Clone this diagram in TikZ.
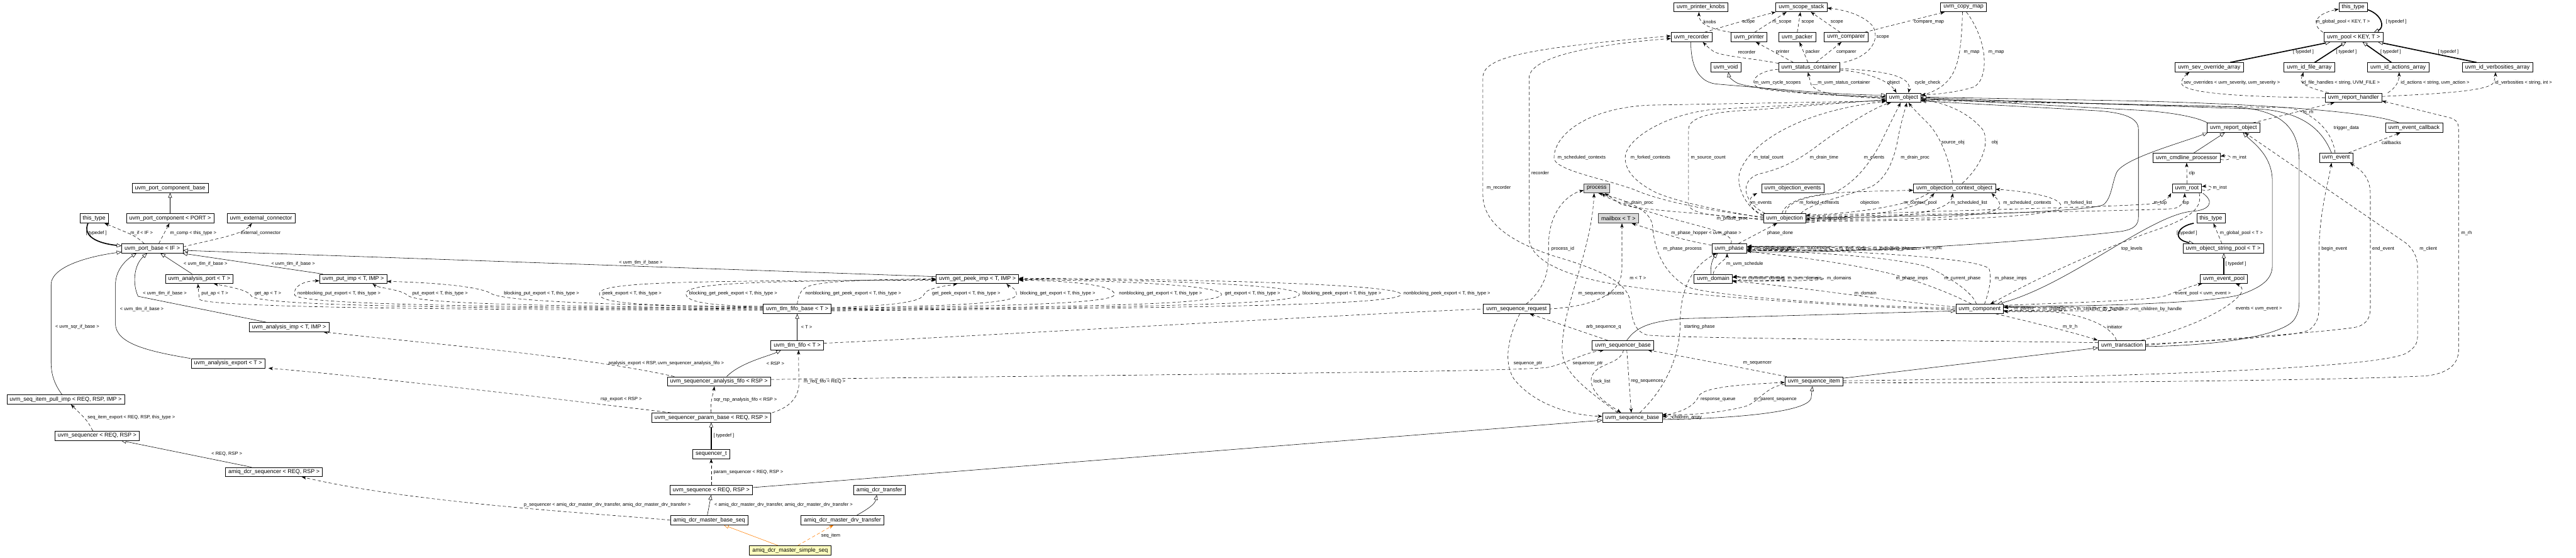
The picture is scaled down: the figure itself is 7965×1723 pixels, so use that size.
\documentclass[tikz,border=0pt]{standalone}
\usepackage{fontspec}
\setmainfont{Liberation Sans}
\usetikzlibrary{arrows.meta,backgrounds}
\definecolor{dxorange}{HTML}{FF7F00}
\definecolor{dxyellow}{HTML}{FFFFC0}
\definecolor{dxgrey}{HTML}{D9D9D9}
\newcommand{\clsfont}{\fontsize{17.5}{19}\selectfont}
\newcommand{\edgefont}{\fontsize{14.5}{16}\selectfont}
\tikzset{
  cls/.style={draw=black,line width=1.2pt,fill=white,font=\clsfont,inner xsep=9pt,inner ysep=0pt,minimum height=29pt},
  ext/.style={cls,fill=dxgrey,draw=black!75},
  focus/.style={cls,fill=dxyellow},
  elbl/.style={font=\edgefont,inner sep=0pt,anchor=west},
  inh/.style={line width=1.1pt,-{Triangle[open,length=15pt,width=12pt,fill=white]}},
  tdef/.style={line width=3.2pt,-{Triangle[open,length=15pt,width=12pt,fill=white,line width=1.1pt]}},
  use/.style={line width=1.1pt,dash pattern=on 10pt off 7pt,-{Stealth[length=14pt,width=10pt,inset=4pt]}},
}
\begin{document}
\begin{tikzpicture}[x=1pt,y=-1pt]
\useasboundingbox (0,0) rectangle (7965,1723);
% classes
\node[cls] (pcb) at (526,581) {uvm\_port\_component\_base};
\node[cls] (thistypeL) at (291,675) {this\_type};
\node[cls] (pcomp) at (526,675) {uvm\_port\_component < PORT >};
\node[cls] (extconn) at (807,675) {uvm\_external\_connector};
\node[cls] (portbase) at (471,768) {uvm\_port\_base < IF >};
\node[cls] (aport) at (616,862) {uvm\_analysis\_port < T >};
\node[cls] (putimp) at (1092,862) {uvm\_put\_imp < T, IMP >};
\node[cls] (aimp) at (894,1011) {uvm\_analysis\_imp < T, IMP >};
\node[cls] (aexport) at (705,1123) {uvm\_analysis\_export < T >};
\node[cls] (pullimp) at (203,1235) {uvm\_seq\_item\_pull\_imp < REQ, RSP, IMP >};
\node[cls] (sqr) at (300,1347) {uvm\_sequencer < REQ, RSP >};
\node[cls] (dcrsqr) at (847,1459) {amiq\_dcr\_sequencer < REQ, RSP >};
\node[cls] (fifobase) at (2465,955) {uvm\_tlm\_fifo\_base < T >};
\node[cls] (fifo) at (2465,1067) {uvm\_tlm\_fifo < T >};
\node[cls] (safifo) at (2223,1179) {uvm\_sequencer\_analysis\_fifo < RSP >};
\node[cls] (parambase) at (2199,1291) {uvm\_sequencer\_param\_base < REQ, RSP >};
\node[cls] (sqrt) at (2199,1403) {sequencer\_t};
\node[cls] (seq) at (2199,1515) {uvm\_sequence < REQ, RSP >};
\node[cls] (dcrtr) at (2719,1515) {amiq\_dcr\_transfer};
\node[cls] (baseseq) at (2193,1608) {amiq\_dcr\_master\_base\_seq};
\node[cls] (drvtr) at (2605,1608) {amiq\_dcr\_master\_drv\_transfer};
\node[focus] (simpleseq) at (2443,1701) {amiq\_dcr\_master\_simple\_seq};
\node[cls] (getpeek) at (3022,862) {uvm\_get\_peek\_imp < T, IMP >};
\node[cls] (seqreq) at (4689,955) {uvm\_sequence\_request};
\node[cls] (sqrbase) at (5018,1067) {uvm\_sequencer\_base};
\node[cls] (seqbase) at (5047,1291) {uvm\_sequence\_base};
\node[cls] (knobs) at (5259,22) {uvm\_printer\_knobs};
\node[cls] (recorder) at (5230,115) {uvm\_recorder};
\node[cls] (void) at (5336,208) {uvm\_void};
\node[ext] (process) at (4937,582) {process};
\node[ext] (mailbox) at (5004,675) {mailbox < T >};
\node[cls] (phase) at (5347,768) {uvm\_phase};
\node[cls] (domain) at (5297,862) {uvm\_domain};
\node[cls] (scope) at (5570,22) {uvm\_scope\_stack};
\node[cls] (copymap) at (6071,22) {uvm\_copy\_map};
\node[cls] (printer) at (5408,115) {uvm\_printer};
\node[cls] (packer) at (5557,115) {uvm\_packer};
\node[cls] (comparer) at (5708,115) {uvm\_comparer};
\node[cls] (status) at (5594,208) {uvm\_status\_container};
\node[cls] (object) at (5886,302) {uvm\_object};
\node[cls] (objevents) at (5543,582) {uvm\_objection\_events};
\node[cls] (ctxobj) at (6043,582) {uvm\_objection\_context\_object};
\node[cls] (objection) at (5518,675) {uvm\_objection};
\node[cls] (component) at (6121,955) {uvm\_component};
\node[cls] (transaction) at (6561,1067) {uvm\_transaction};
\node[cls] (seqitem) at (5609,1179) {uvm\_sequence\_item};
\node[cls] (thistypeT) at (7276,22) {this\_type};
\node[cls] (pool) at (7277,115) {uvm\_pool < KEY, T >};
\node[cls] (sevarr) at (6831,208) {uvm\_sev\_override\_array};
\node[cls] (filearr) at (7140,208) {uvm\_id\_file\_array};
\node[cls] (actarr) at (7415,208) {uvm\_id\_actions\_array};
\node[cls] (verbarr) at (7722,208) {uvm\_id\_verbosities\_array};
\node[cls] (rh) at (7277,302) {uvm\_report\_handler};
\node[cls] (ro) at (6906,395) {uvm\_report\_object};
\node[cls] (evcb) at (7464,395) {uvm\_event\_callback};
\node[cls] (clp) at (6761,488) {uvm\_cmdline\_processor};
\node[cls] (event) at (7223,488) {uvm\_event};
\node[cls] (root) at (6762,582) {uvm\_root};
\node[cls] (thistypeM) at (6836,675) {this\_type};
\node[cls] (strpool) at (6874,768) {uvm\_object\_string\_pool < T >};
\node[cls] (evpool) at (6876,862) {uvm\_event\_pool};

% edge labels
\foreach \lx/\ly/\lt in {266/721/{[ typedef ]}, 403/721/{m\_if < IF >}, 526/721/{m\_comp < this\_type >},
  744/721/{external\_connector}, 568/815/{< uvm\_tlm\_if\_base >}, 839/815/{< uvm\_tlm\_if\_base >},
  442/908/{< uvm\_tlm\_if\_base >}, 371/955/{< uvm\_tlm\_if\_base >}, 171/1011/{< uvm\_sqr\_if\_base >},
  271/1291/{seq\_item\_export < REQ, RSP, this\_type >}, 654/1403/{< REQ, RSP >},
  623/908/{put\_ap < T >}, 787/908/{get\_ap < T >}, 920/908/{nonblocking\_put\_export < T, this\_type >},
  1275/908/{put\_export < T, this\_type >}, 1558/908/{blocking\_put\_export < T, this\_type >},
  1863/908/{peek\_export < T, this\_type >}, 2131/908/{blocking\_get\_peek\_export < T, this\_type >},
  2490/908/{nonblocking\_get\_peek\_export < T, this\_type >}, 2882/908/{get\_peek\_export < T, this\_type >},
  3154/908/{blocking\_get\_export < T, this\_type >}, 3460/908/{nonblocking\_get\_export < T, this\_type >},
  3787/908/{get\_export < T, this\_type >}, 4027/908/{blocking\_peek\_export < T, this\_type >},
  4340/908/{nonblocking\_peek\_export < T, this\_type >}, 1914/812/{< uvm\_tlm\_if\_base >},
  2477/1011/{< T >}, 1881/1124/{analysis\_export < RSP, uvm\_sequencer\_analysis\_fifo >}, 2370/1124/{< RSP >},
  2485/1179/{m\_req\_fifo < REQ >}, 1857/1235/{rsp\_export < RSP >}, 2207/1235/{sqr\_rsp\_analysis\_fifo < RSP >},
  2206/1347/{[ typedef ]}, 2206/1459/{param\_sequencer < REQ, RSP >},
  1620/1561/{p\_sequencer < amiq\_dcr\_master\_drv\_transfer, amiq\_dcr\_master\_drv\_transfer >},
  2209/1561/{< amiq\_dcr\_master\_drv\_transfer, amiq\_dcr\_master\_drv\_transfer >}, 2539/1655/{seq\_item}}
  \node[elbl] (lab\lx-\ly) at (\lx,\ly) {\lt};
\foreach \lx/\ly/\lt in {4880/908/{m\_sequence\_process}, 5039/860/{m < T >}, 4904/1011/{arb\_sequence\_q},
  5207/1011/{starting\_phase}, 4680/1123/{sequence\_ptr}, 4863/1123/{sequencer\_ptr}, 4927/1179/{lock\_list},
  5043/1179/{reg\_sequences}, 5258/1235/{response\_queue}, 5170/1291/{children\_array}, 5267/68/{knobs},
  4816/488/{m\_scheduled\_contexts}, 5042/488/{m\_forked\_contexts}, 5228/488/{m\_source\_count},
  4735/535/{recorder}, 4597/581/{m\_recorder}, 5023/628/{m\_drain\_proc}, 5308/675/{m\_phase\_proc},
  5167/721/{m\_phase\_hopper < uvm\_phase >}, 4797/769/{process\_id}, 5143/769/{m\_phase\_process},
  5338/815/{m\_uvm\_schedule}, 5387/68/{scope}, 5480/68/{m\_scope}, 5570/68/{scope}, 5660/68/{scope},
  5918/68/{compare\_map}, 5802/115/{scope}, 5374/161/{recorder}, 5491/161/{printer}, 5583/161/{packer},
  5678/161/{comparer}, 6072/161/{m\_map}, 6148/161/{m\_map}, 5425/255/{m\_uvm\_cycle\_scopes},
  5604/255/{\_\_m\_uvm\_status\_container}, 5835/255/{object}, 5920/255/{cycle\_check},
  6003/441/{source\_obj}, 6158/441/{obj}, 5423/488/{m\_total\_count}, 5596/488/{m\_drain\_time},
  5763/488/{m\_events}, 5877/488/{m\_drain\_proc}, 5415/628/{m\_events}, 5564/628/{m\_forked\_contexts},
  5752/628/{objection}, 5886/628/{m\_context\_pool}, 6032/628/{m\_scheduled\_list},
  6194/628/{m\_scheduled\_contexts}, 6382/628/{m\_forked\_list}, 5622/675/{m\_objections},
  5464/721/{phase\_done}, 5431/769/{m\_predecessors}, 5505/769/{m\_imp}, 5567/769/{m\_successors},
  5686/769/{m\_end\_node}, 5791/769/{m\_executing\_phases}, 5955/769/{m\_sync}, 6559/769/{top\_levels},
  5386/861/{m\_common\_domain}, 5528/861/{m\_uvm\_domain}, 5649/861/{m\_domains}, 5862/861/{m\_phase\_imps},
  6011/861/{m\_current\_phase}, 6168/861/{m\_phase\_imps}, 5734/908/{m\_domain}}
  \node[elbl] (lab\lx-\ly) at (\lx,\ly) {\lt};
\foreach \lx/\ly/\lt in {6227/955/{m\_parent}, 6316/955/{m\_children}, 6422/955/{m\_children\_by\_handle},
  6600/955/{m\_children\_by\_handle}, 6378/1011/{m\_tr\_h}, 6515/1011/{initiator}, 5390/1123/{m\_sequencer},
  5423/1235/{m\_parent\_sequence}, 7160/68/{m\_global\_pool < KEY, T >}, 7377/68/{[ typedef ]},
  7090/161/{[ typedef ]}, 7223/161/{[ typedef ]}, 7360/161/{[ typedef ]}, 7538/161/{[ typedef ]},
  6752/255/{sev\_overrides < uvm\_severity, uvm\_severity >}, 7118/255/{id\_file\_handles < string, UVM\_FILE >},
  7423/255/{id\_actions < string, uvm\_action >}, 7714/255/{id\_verbosities < string, int >},
  7120/348/{m\_rh}, 7216/395/{trigger\_data}, 7364/441/{callbacks}, 6903/488/{m\_inst}, 6768/535/{clp},
  6842/581/{m\_inst}, 6659/628/{m\_top}, 6748/628/{top}, 6730/721/{[ typedef ]},
  6864/721/{m\_global\_pool < T >}, 7610/721/{m\_rh}, 7178/769/{begin\_event}, 7335/769/{end\_event},
  7481/769/{m\_client}, 6881/815/{[ typedef ]}, 6726/908/{event\_pool < uvm\_event >},
  6913/955/{events < uvm\_event >}}
  \node[elbl] (lab\lx-\ly) at (\lx,\ly) {\lt};

\begin{scope}[on background layer]
\fill[white] (0,0) rectangle (7965,1723);
% port classes
\draw[inh] (pcomp.north) -- (pcb.south);
\draw[tdef] ([xshift=-19pt]thistypeL.south) .. controls (255,730) and (300,752) .. ([yshift=8pt]portbase.west);
\draw[use] ([xshift=-25pt]portbase.north) .. controls (420,730) .. ([xshift=32pt]thistypeL.south);
\draw[use] ([xshift=20pt]portbase.north) .. controls (505,725) .. ([xshift=-2pt]pcomp.south);
\draw[use] ([yshift=5pt]portbase.east) .. controls (680,735) and (750,725) .. ([xshift=-28pt]extconn.south);
\draw[inh] ([xshift=-22pt]aport.north) -- ([xshift=25pt]portbase.south);
\draw[inh] ([xshift=-94pt]putimp.north) -- ([xshift=93pt]portbase.south);
\draw[inh] ([xshift=-71pt]aimp.north) -- (427,916) .. controls (410,880) and (412,820) .. ([xshift=-16pt]portbase.south);
\draw[inh] ([xshift=-116pt]aexport.north) .. controls (450,1085) and (357,1060) .. (357,1000) -- (357,880) .. controls (357,830) and (395,800) .. ([xshift=-49pt]portbase.south);
\draw[inh] ([xshift=-11pt]pullimp.north) .. controls (170,1190) and (158,1160) .. (158,1120) -- (158,880) .. controls (158,820) and (290,790) .. ([yshift=-11pt]portbase.west);
\draw[inh] ([yshift=7pt]getpeek.west) -- ([yshift=-6pt]portbase.east);
% fifo exports
\draw[use] ([yshift=-4pt]fifobase.west) .. controls (1500,958) and (640,952) .. (616,925) -- ([xshift=-4pt]aport.south);
\draw[use] ([yshift=-2pt]fifobase.west) .. controls (1500,952) and (800,948) .. (777,915) .. controls (768,895) and (700,885) .. ([xshift=45pt]aport.south);
\draw[use] (fifobase.west) .. controls (1500,948) and (930,942) .. (911,912) .. controls (905,885) and (940,868) .. ([yshift=-6pt]putimp.west);
\draw[use] ([yshift=2pt]fifobase.west) .. controls (1600,945) and (1280,938) .. (1259,912) .. controls (1240,895) and (1170,890) .. ([xshift=60pt]putimp.south);
\draw[use] ([yshift=4pt]fifobase.west) .. controls (1900,942) and (1560,932) .. (1520,908) .. controls (1480,882) and (1300,872) .. ([yshift=-8pt]putimp.east);
\draw[use] ([yshift=6pt]fifobase.west) .. controls (2000,945) and (1853,940) .. (1853,908) .. controls (1853,872) and (2100,868) .. ([yshift=-4pt]getpeek.west);
\draw[use] ([yshift=8pt]fifobase.west) .. controls (2200,945) and (2121,935) .. (2121,908) .. controls (2121,876) and (2300,870) .. ([yshift=-2pt]getpeek.west);
\draw[use] (fifobase.north) .. controls (2468,915) and (2475,898) .. (2492,888) .. controls (2530,868) and (2700,864) .. (getpeek.west);
\draw[use] ([yshift=4pt]fifobase.east) .. controls (2750,945) and (2850,935) .. (2857,910) .. controls (2865,890) and (2920,885) .. ([xshift=-62pt]getpeek.south);
\draw[use] ([yshift=2pt]fifobase.east) .. controls (3000,945) and (3143,935) .. (3143,910) .. controls (3143,890) and (3120,885) .. ([xshift=90pt]getpeek.south);
\draw[use] (fifobase.east) .. controls (3200,945) and (3446,935) .. (3446,910) .. controls (3446,880) and (3300,868) .. ([yshift=-4pt]getpeek.east);
\draw[use] ([yshift=-2pt]fifobase.east) .. controls (3400,948) and (3777,940) .. (3777,910) .. controls (3777,880) and (3400,866) .. ([yshift=-2pt]getpeek.east);
\draw[use] ([yshift=-4pt]fifobase.east) .. controls (3500,950) and (4018,942) .. (4018,910) .. controls (4018,878) and (3500,864) .. (getpeek.east);
\draw[use] ([yshift=-6pt]fifobase.east) .. controls (3600,952) and (4332,945) .. (4332,910) .. controls (4332,876) and (3600,862) .. ([yshift=2pt]getpeek.east);
% sequencer side
\draw[inh] (fifo.north) -- (fifobase.south);
\draw[inh] ([xshift=24pt]safifo.north) .. controls (2290,1120) and (2380,1100) .. ([xshift=-50pt]fifo.south);
\draw[use] ([xshift=-138pt]safifo.north) .. controls (1800,1100) and (1300,1060) .. ([xshift=106pt]aimp.south);
\draw[use] (parambase.north) .. controls (2195,1240) and (2205,1220) .. ([xshift=-14pt]safifo.south);
\draw[use] ([xshift=188pt]parambase.north) .. controls (2440,1260) and (2468,1230) .. (2470,1190) -- ([xshift=4pt]fifo.south);
\draw[use] ([xshift=-124pt]parambase.north) .. controls (1700,1230) and (1100,1160) .. ([xshift=125pt]aexport.south);
\draw[tdef] (sqrt.north) -- (parambase.south);
\draw[use] (seq.north) -- (sqrt.south);
\draw[inh] ([xshift=-6pt]baseseq.north) -- (seq.south);
\draw[use] (baseseq.west) .. controls (1900,1590) and (1300,1560) .. ([xshift=86pt]dcrsqr.south);
\draw[inh] ([xshift=44pt]drvtr.north) .. controls (2680,1575) and (2705,1560) .. ([xshift=-8pt]dcrtr.south);
\draw[inh,dxorange] ([xshift=-38pt]simpleseq.north) -- ([xshift=45pt]baseseq.south);
\draw[use,dxorange] ([xshift=24pt]simpleseq.north) -- ([xshift=-28pt]drvtr.south);
\draw[inh] ([xshift=-70pt]dcrsqr.north) -- ([xshift=75pt]sqr.south);
\draw[use] ([xshift=-13pt]sqr.north) .. controls (270,1300) .. ([xshift=16pt]pullimp.south);
\draw[inh] ([yshift=8pt]seq.east) -- ([yshift=-8pt]seqbase.west);
\draw[use] ([yshift=6pt]safifo.east) .. controls (3500,1158) and (4700,1150) .. (4790,1135) .. controls (4850,1120) and (4900,1090) .. ([xshift=-58pt]sqrbase.south);
\draw[use] ([yshift=6pt]fifo.east) .. controls (3000,1040) and (4200,970) .. (seqreq.west) -- (seqreq.east) .. controls (4950,945) and (5015,900) .. (5015,830) -- ([xshift=11pt]mailbox.south);
% sequence / sequencer base
\draw[use] ([xshift=30pt]seqreq.north) .. controls (4790,880) and (4788,820) .. (4788,760) .. controls (4788,650) and (4850,600) .. ([yshift=-6pt]process.west);
\draw[use] ([xshift=10pt]seqreq.south) .. controls (4660,1050) and (4650,1120) .. (4680,1170) .. controls (4750,1260) and (4880,1285) .. ([yshift=4pt]seqbase.west);
\draw[use] ([xshift=-47pt]sqrbase.north) -- ([xshift=41pt]seqreq.south);
\draw[use] ([xshift=2pt]sqrbase.south) .. controls (5010,1130) and (4930,1120) .. (4920,1170) .. controls (4915,1220) and (4990,1260) .. ([xshift=-35pt]seqbase.north);
\draw[use] ([xshift=12pt]sqrbase.south) -- ([xshift=-3pt]seqbase.north);
\draw[use] ([xshift=-45pt]seqbase.north) .. controls (4900,1200) and (4830,1150) .. (4830,1080) .. controls (4830,950) and (4920,780) .. ([xshift=-8pt]process.south);
\draw[use] ([xshift=23pt]seqbase.north) .. controls (5150,1200) and (5195,1100) .. (5195,1000) .. controls (5195,880) and (5240,820) .. ([xshift=-40pt]phase.south);
\draw[use] ([yshift=-1pt]seqbase.east) .. controls (5182,1302) and (5182,1284) .. ([yshift=3pt]seqbase.east);
\draw[use] ([xshift=-85pt]seqitem.north) .. controls (5450,1150) and (5250,1110) .. ([xshift=77pt]sqrbase.south);
\draw[use] ([yshift=6pt]seqbase.east) .. controls (5200,1275) and (5240,1255) .. (5252,1225) .. controls (5265,1195) and (5400,1188) .. ([yshift=-3pt]seqitem.west);
\draw[use] ([yshift=-9pt]seqitem.west) .. controls (5460,1195) and (5440,1240) .. (5400,1255) .. controls (5330,1275) and (5220,1285) .. ([yshift=10pt]seqbase.east);
\draw[inh] ([yshift=-6pt]seqbase.east) .. controls (5300,1295) and (5590,1280) .. (5600,1230) -- ([xshift=-5pt]seqitem.south);
\draw[inh] ([yshift=10pt]seqitem.east) -- ([yshift=-8pt]transaction.west);
\draw[inh] ([xshift=12pt]sqrbase.north) .. controls (5060,1010) and (5100,995) .. (5200,985) -- ([yshift=-6pt]component.west);
% report side of sequence items
\draw[use] ([yshift=2pt]seqitem.east) .. controls (6500,1168) and (7350,1140) .. (7440,1092) .. controls (7468,1075) and (7475,1060) .. (7475,1040) -- (7475,830) .. controls (7475,790) and (7460,770) .. (7440,752) -- ([xshift=35pt]ro.south);
\draw[use] ([yshift=-4pt]seqitem.east) .. controls (6600,1185) and (7300,1172) .. (7500,1162) .. controls (7565,1155) and (7602,1130) .. (7602,1080) -- (7602,400) .. controls (7602,375) and (7590,368) .. (7575,364) -- ([yshift=-10pt]rh.east);
% transaction
\draw[use] ([yshift=3pt]transaction.east) .. controls (6900,1050) and (7100,1040) .. (7140,1020) .. controls (7165,1000) and (7170,980) .. (7170,950) -- (7170,780) .. controls (7172,650) and (7200,560) .. ([xshift=-14pt]event.south);
\draw[use] (transaction.east) .. controls (7000,1040) and (7250,1020) .. (7290,1010) .. controls (7320,1000) and (7329,980) .. (7329,950) -- (7329,600) .. controls (7329,540) and (7290,520) .. ([xshift=43pt]event.south);
\draw[use] ([xshift=60pt]transaction.north) .. controls (6750,1020) and (6880,965) .. (6925,912) .. controls (6942,892) and (6925,882) .. ([xshift=37pt]evpool.south);
\draw[inh] ([yshift=-4pt]transaction.east) .. controls (6900,1068) and (7060,1030) .. (7092,990) .. controls (7105,972) and (7109,955) .. (7109,930) -- (7109,500) .. controls (7109,390) and (7050,338) .. (6900,330) -- ([yshift=-5pt]object.east);
\draw[use] ([yshift=8pt]transaction.west) .. controls (5800,1050) and (5200,1045) .. (5095,1036) .. controls (5050,1025) and (5045,980) .. (5040,930) .. controls (5030,860) and (4900,820) .. (4800,790) .. controls (4620,730) and (4585,660) .. (4585,600) -- (4585,240) .. controls (4585,180) and (4700,150) .. ([yshift=4pt]recorder.west);
% component
\draw[use] ([xshift=50pt]component.south) .. controls (6300,1000) and (6420,1030) .. ([xshift=-75pt]transaction.north);
\draw[use] ([xshift=-17pt]transaction.north) .. controls (6530,1010) and (6450,975) .. (6350,964) -- ([yshift=-8pt]component.east);
\draw[use] ([yshift=6pt]component.west) .. controls (5800,925) and (5500,878) .. ([yshift=-8pt]domain.east);
\draw[use] ([yshift=2pt]component.west) .. controls (5700,945) and (5300,915) .. (5220,888) .. controls (5150,850) and (5115,780) .. (5110,700) .. controls (5105,640) and (5000,612) .. ([xshift=5pt]process.south);
\draw[use] ([yshift=-2pt]component.west) .. controls (5600,945) and (5150,905) .. (5000,880) .. controls (4850,855) and (4735,810) .. (4728,740) -- (4728,240) .. controls (4730,180) and (4900,140) .. ([yshift=-4pt]recorder.west);
\draw[use] ([xshift=-25pt]component.north) .. controls (6000,890) and (5870,850) .. (5820,840) .. controls (5650,800) and (5450,785) .. ([yshift=-7pt]phase.east);
\draw[use] ([xshift=-10pt]component.north) .. controls (6100,900) and (6000,840) .. (5950,822) .. controls (5800,785) and (5500,778) .. ([yshift=-3pt]phase.east);
\draw[use] ([xshift=15pt]component.north) .. controls (6150,900) and (6160,860) .. (6150,830) .. controls (6100,790) and (5600,772) .. ([yshift=1pt]phase.east);
\foreach \xm in {6230,6349,6491,6735}
  \draw[use] ([yshift=-5pt]component.east) .. controls (\xm,966) and (\xm,944) .. ([yshift=5pt]component.east);
\draw[use] ([yshift=11pt]component.east) .. controls (6400,935) and (6650,930) .. (6700,913) .. controls (6740,897) and (6780,882) .. ([xshift=-67pt]evpool.south);
\draw[inh] ([yshift=8pt]component.east) .. controls (6500,948) and (6850,935) .. (6930,910) .. controls (7000,885) and (7026,860) .. (7026,820) -- (7026,560) .. controls (7026,480) and (6965,440) .. ([xshift=29pt]ro.south);
% domain and phase
\foreach \xm in {5388,5575,5735}
  \draw[use] ([yshift=-5pt]domain.east) .. controls (\xm,874) and (\xm,850) .. ([yshift=5pt]domain.east);
\draw[use] (domain.north) .. controls (5300,820) and (5340,800) .. ([xshift=-7pt]phase.south);
\draw[inh] ([xshift=-7pt]domain.north) .. controls (5288,810) and (5300,795) .. ([xshift=-36pt]phase.south);
\foreach \xm in {5433,5532,5615,5773,5913,6132}
  \draw[use] ([yshift=-5pt]phase.east) .. controls (\xm,779) and (\xm,757) .. ([yshift=5pt]phase.east);
\draw[inh] ([yshift=-11pt]phase.east) .. controls (5800,785) and (6400,735) .. (6560,715) .. controls (6600,708) and (6612,695) .. (6612,670) -- (6612,400) .. controls (6612,365) and (6570,348) .. (6480,342) -- ([yshift=-10pt]object.east);
\draw[use] ([xshift=28pt]phase.north) -- ([xshift=-23pt]objection.south);
\draw[use] ([xshift=5pt]phase.north) .. controls (5370,720) and (5250,700) .. (5150,670) .. controls (5050,640) and (4980,620) .. ([xshift=15pt]process.south);
\draw[use] ([yshift=10pt]phase.west) .. controls (5200,740) .. ([xshift=41pt]mailbox.south);
% objection
\draw[use] ([yshift=4pt]objection.west) .. controls (5350,660) and (5150,630) .. (5050,585) .. controls (4950,550) and (4805,525) .. (4805,488) .. controls (4805,420) and (4900,335) .. (5100,325) -- ([yshift=-10pt]object.west);
\draw[use] ([yshift=1pt]objection.west) .. controls (5350,655) and (5200,630) .. (5120,595) .. controls (5060,565) and (5025,530) .. (5025,488) .. controls (5025,430) and (5150,352) .. (5300,338) -- ([yshift=-8pt]object.west);
\draw[use] ([yshift=-2pt]objection.west) .. controls (5300,670) and (5221,660) .. (5221,630) -- (5221,400) .. controls (5221,360) and (5300,345) .. (5420,340) -- ([yshift=-6pt]object.west);
\draw[use] ([yshift=7pt]objection.west) .. controls (5400,645) and (5360,570) .. (5383,522) .. controls (5420,440) and (5560,345) .. ([yshift=4pt]object.south west);
\draw[use] ([xshift=-60pt]objection.north) .. controls (5380,620) and (5380,548) .. (5450,535) .. controls (5530,515) and (5580,480) .. (5620,450) .. controls (5700,390) and (5800,330) .. ([xshift=-39pt]object.south);
\draw[use] ([xshift=2pt]objection.north) .. controls (5525,620) and (5600,606) .. (5665,598) .. controls (5745,565) and (5795,480) .. (5814,444) .. controls (5840,390) and (5865,340) .. ([xshift=-9pt]object.south);
\draw[use] ([xshift=50pt]objection.north) .. controls (5600,625) and (5720,605) .. (5790,575) .. controls (5840,545) and (5860,480) .. (5870,420) .. controls (5880,370) and (5890,340) .. ([xshift=10pt]object.south);
\draw[use] ([yshift=-5pt]objection.west) .. controls (5300,660) and (5050,650) .. (5010,630) -- ([xshift=25pt]process.south);
\draw[use] ([yshift=10pt]objection.west) .. controls (5400,642) and (5405,612) .. ([xshift=-110pt]objevents.south);
\draw[use] ([xshift=-8pt]objection.north) .. controls (5520,620) and (5600,600) .. (5700,595) .. controls (5800,590) and (5850,590) .. ([yshift=-6pt]ctxobj.west);
\draw[use] ([xshift=-80pt]ctxobj.south) .. controls (5900,640) and (5700,662) .. ([yshift=10pt]objection.east);
\draw[use] ([yshift=-2pt]objection.east) .. controls (5800,668) and (5940,645) .. ([xshift=-62pt]ctxobj.south);
\draw[use] ([yshift=-4pt]objection.east) .. controls (5900,675) and (6030,655) .. ([xshift=-5pt]ctxobj.south);
\draw[use] ([yshift=-6pt]objection.east) .. controls (6000,680) and (6170,665) .. (6182,640) .. controls (6188,625) and (6170,610) .. ([xshift=115pt]ctxobj.south);
\draw[use] ([yshift=-8pt]objection.east) .. controls (6000,685) and (6360,670) .. (6372,640) .. controls (6382,608) and (6250,590) .. ([yshift=-3pt]ctxobj.east);
\draw[use] ([yshift=-12pt]objection.east) .. controls (5632,692) and (5632,672) .. ([yshift=-3pt]objection.east);
\draw[use] ([xshift=-5pt]ctxobj.north) .. controls (6030,500) and (6000,420) .. (5960,380) .. controls (5930,350) and (5910,330) .. ([xshift=15pt]object.south);
\draw[use] ([xshift=24pt]ctxobj.north) .. controls (6140,500) and (6150,430) .. (6130,400) .. controls (6080,340) and (6000,315) .. ([yshift=-7pt]object.east);
\draw[use] ([yshift=7pt]objection.east) .. controls (6000,650) and (6550,640) .. (6650,630) .. controls (6690,625) and (6705,612) .. ([xshift=-49pt]root.south);
\draw[use] ([yshift=4pt]objection.east) .. controls (6000,660) and (6600,652) .. (6720,645) .. controls (6745,640) and (6755,622) .. ([xshift=-7pt]root.south);
\draw[inh] ([yshift=1pt]objection.east) .. controls (6000,668) and (6470,655) .. (6505,632) .. controls (6530,610) and (6530,565) .. (6545,532) .. controls (6570,488) and (6750,440) .. ([xshift=-80pt]ro.south);
% root and report classes
\draw[inh] ([xshift=22pt]clp.north) -- ([xshift=-27pt]ro.south);
\draw[use] (root.north) -- (clp.south);
\draw[use] ([yshift=-5pt]clp.east) .. controls (6905,499) and (6905,477) .. ([yshift=5pt]clp.east);
\draw[use] ([yshift=-5pt]root.east) .. controls (6846,593) and (6846,571) .. ([yshift=5pt]root.east);
\draw[use] ([xshift=38pt]root.south) .. controls (6812,650) and (6760,680) .. (6640,720) .. controls (6450,790) and (6300,860) .. ([xshift=33pt]component.north);
\draw[inh] ([xshift=49pt]root.south) .. controls (6850,625) and (6830,650) .. (6780,653) .. controls (6650,662) and (6400,880) .. ([xshift=55pt]component.north);
\draw[use] ([xshift=59pt]ro.north) -- ([xshift=-59pt]rh.south);
\draw[inh] ([xshift=-80pt]ro.north) .. controls (6790,360) and (6700,345) .. (6600,340) -- ([yshift=-2pt]object.east);
\draw[inh] ([xshift=-14pt]event.north) .. controls (7180,400) and (7120,350) .. (7000,338) -- (object.east);
\draw[use] ([xshift=-3pt]event.north) .. controls (7215,420) and (7170,355) .. (7080,333) -- ([yshift=-8pt]object.east);
\draw[use] ([xshift=38pt]event.north) -- ([xshift=-42pt]evcb.south);
\draw[inh] ([xshift=-46pt]evcb.north) .. controls (7350,352) and (7100,325) .. (6600,312) -- ([yshift=2pt]object.east);
\draw[use] (rh.west) .. controls (6950,300) and (6740,290) .. (6745,255) .. controls (6748,240) and (6760,230) .. ([xshift=-61pt]sevarr.south);
\draw[use] ([xshift=-77pt]rh.north) .. controls (7150,275) and (7110,260) .. (7115,245) .. controls (7118,235) and (7120,230) .. ([xshift=-18pt]filearr.south);
\draw[use] ([xshift=106pt]rh.north) .. controls (7410,270) and (7418,250) .. ([xshift=3pt]actarr.south);
\draw[use] ([yshift=4pt]rh.east) .. controls (7550,290) and (7700,280) .. (7710,255) .. controls (7715,240) and (7716,232) .. ([xshift=-6pt]verbarr.south);
\foreach \src/\sx/\px in {sevarr/65/-72, filearr/17/-23, actarr/-21/28, verbarr/-65/76}
  \draw[tdef] ([xshift=\sx pt]\src.north) -- ([xshift=\px pt]pool.south);
\draw[tdef] ([yshift=-8pt]thistypeT.east) .. controls (7365,45) and (7375,85) .. ([xshift=63pt]pool.north);
\draw[use] ([xshift=-94pt]pool.north) .. controls (7150,80) and (7150,45) .. ([yshift=-6pt]thistypeT.west);
\draw[tdef] ([xshift=-53pt]thistypeM.south) .. controls (6730,700) and (6715,740) .. ([xshift=-91pt]strpool.north);
\draw[use] ([xshift=-4pt]strpool.north) -- ([xshift=8pt]thistypeM.south);
\draw[tdef] (evpool.north) -- ([xshift=2pt]strpool.south);
% object support classes
\draw[use] (printer.north west) .. controls (5290,90) and (5253,75) .. ([xshift=-6pt]knobs.south);
\draw[use] ([xshift=40pt]recorder.north) .. controls (5320,85) and (5420,55) .. (scope.south west);
\draw[use] ([xshift=17pt]printer.north) -- ([xshift=-46pt]scope.south);
\draw[use] (packer.north) -- ([xshift=-3pt]scope.south);
\draw[use] ([xshift=-18pt]comparer.north) -- ([xshift=29pt]scope.south);
\draw[use] ([xshift=107pt]status.north) .. controls (5800,170) and (5810,110) .. (5790,80) .. controls (5760,45) and (5700,30) .. ([yshift=-3pt]scope.east);
\draw[use] ([xshift=57pt]comparer.north) -- ([xshift=-58pt]copymap.south);
\draw[use] ([xshift=-49pt]status.north) -- ([xshift=21pt]printer.south);
\draw[use] ([xshift=-4pt]status.north) -- ([xshift=7pt]packer.south);
\draw[use] ([xshift=21pt]status.north) -- ([xshift=-14pt]comparer.south);
\draw[use] ([yshift=-3pt]status.north west) .. controls (5420,180) and (5330,175) .. (5300,160) .. controls (5285,150) and (5275,140) .. ([xshift=35pt]recorder.south);
\draw[use] ([yshift=-6pt]status.west) .. controls (5420,220) and (5400,265) .. (5450,275) .. controls (5600,295) and (5750,298) .. ([yshift=4pt]object.west);
\draw[use] ([yshift=-3pt]object.west) .. controls (5700,298) and (5620,292) .. (5600,262) -- ([xshift=-4pt]status.south);
\draw[use] ([yshift=-8pt]status.east) .. controls (5780,225) and (5840,250) .. ([xshift=-22pt]object.north);
\draw[use] ([yshift=-4pt]status.east) .. controls (5850,220) and (5910,240) .. ([xshift=15pt]object.north);
\draw[inh] (object.west) .. controls (5600,292) and (5400,272) .. (5370,256) .. controls (5352,246) and (5346,236) .. ([xshift=8pt]void.south);
\draw[inh] ([xshift=-2pt]recorder.south) .. controls (5228,220) and (5262,256) .. (5310,260) .. controls (5500,276) and (5700,294) .. ([yshift=8pt]object.west);
\draw[use] ([xshift=-3pt]copymap.south) .. controls (6063,200) and (6050,260) .. ([yshift=6pt]object.east);
\draw[use] ([xshift=9pt]copymap.south) .. controls (6150,130) and (6150,250) .. (6100,270) .. controls (6050,285) and (5990,292) .. ([yshift=9pt]object.east);
\end{scope}
\end{tikzpicture}
\end{document}
